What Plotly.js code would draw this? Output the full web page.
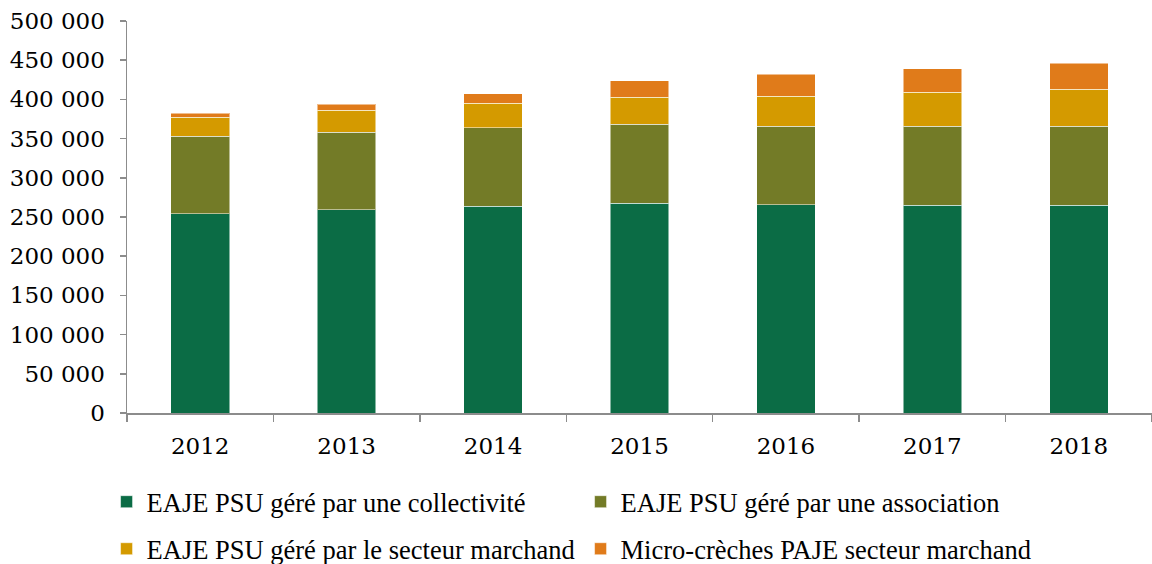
<!DOCTYPE html>
<html>
<head>
<meta charset="utf-8">
<script src="https://cdn.plot.ly/plotly-3.0.1.min.js"></script>
<style>html,body{margin:0;padding:0;background:#fff;}#chart{width:1152px;height:564px;}</style>
</head>
<body>
<div id="chart"></div>
<script>
const years = ['2012', '2013', '2014', '2015', '2016', '2017', '2018'];
const collectivite = [254000, 259000, 263500, 267500, 265500, 265000, 265000];
const association = [99000, 99000, 100500, 100500, 100500, 101000, 100700];
const secteurMarchand = [24000, 28000, 31000, 34500, 38000, 43000, 47500];
const microCreches = [5500, 8000, 12000, 21500, 28000, 30000, 33000];
const seriesNames = [
  'EAJE PSU géré par une collectivité',
  'EAJE PSU géré par une association',
  'EAJE PSU géré par le secteur marchand',
  'Micro-crèches PAJE secteur marchand'
];
const colors = ['#0B6C45', '#737B27', '#D49A00', '#E07B1A'];
const values = [collectivite, association, secteurMarchand, microCreches];
const legendOf = ['legend', 'legend', 'legend2', 'legend2'];

const traces = values.map((v, i) => ({
  type: 'bar',
  x: years,
  y: v,
  name: seriesNames[i],
  legend: legendOf[i],
  marker: {color: colors[i], line: {color: 'rgba(255,255,255,0.5)', width: 1}},
  hoverinfo: 'skip'
}));

const legendBase = {
  orientation: 'h',
  xref: 'container',
  yref: 'container',
  x: 0.0925,
  xanchor: 'left',
  yanchor: 'middle',
  entrywidth: 429,
  entrywidthmode: 'pixels',
  traceorder: 'normal',
  font: {family: 'Liberation Serif, serif', size: 26.5, color: '#000'},
  itemclick: false,
  itemdoubleclick: false,
  bgcolor: 'rgba(0,0,0,0)'
};

const layout = {
  width: 1152,
  height: 564,
  barmode: 'stack',
  bargap: 0.6,
  separators: ', ',
  paper_bgcolor: '#ffffff',
  plot_bgcolor: '#ffffff',
  margin: {l: 127, r: 0, t: 21, b: 151},
  font: {family: 'DejaVu Serif, serif', color: '#000000', size: 23},
  xaxis: {
    type: 'category',
    showgrid: false,
    showline: true,
    linecolor: '#8c8c8c',
    linewidth: 1.5,
    ticks: 'outside',
    tickson: 'boundaries',
    ticklen: 7,
    tickcolor: '#8c8c8c',
    tickwidth: 1.5,
    ticklabelstandoff: 12,
    tickfont: {family: 'DejaVu Serif, serif', size: 23, color: '#000'},
    zeroline: false
  },
  yaxis: {
    range: [0, 500000],
    tickvals: [0, 50000, 100000, 150000, 200000, 250000, 300000, 350000, 400000, 450000, 500000],
    tickformat: ',d',
    showgrid: false,
    showline: true,
    linecolor: '#8c8c8c',
    linewidth: 1.5,
    ticks: 'outside',
    ticklen: 6,
    tickcolor: '#8c8c8c',
    tickwidth: 1.5,
    ticklabelstandoff: 10,
    tickfont: {family: 'DejaVu Serif, serif', size: 23, color: '#000'},
    zeroline: false
  },
  showlegend: true,
  legend: Object.assign({}, legendBase, {y: 0.110}),
  legend2: Object.assign({}, legendBase, {y: 0.0266})
};

Plotly.newPlot('chart', traces, layout, {displayModeBar: false, staticPlot: true});
</script>
</body>
</html>
